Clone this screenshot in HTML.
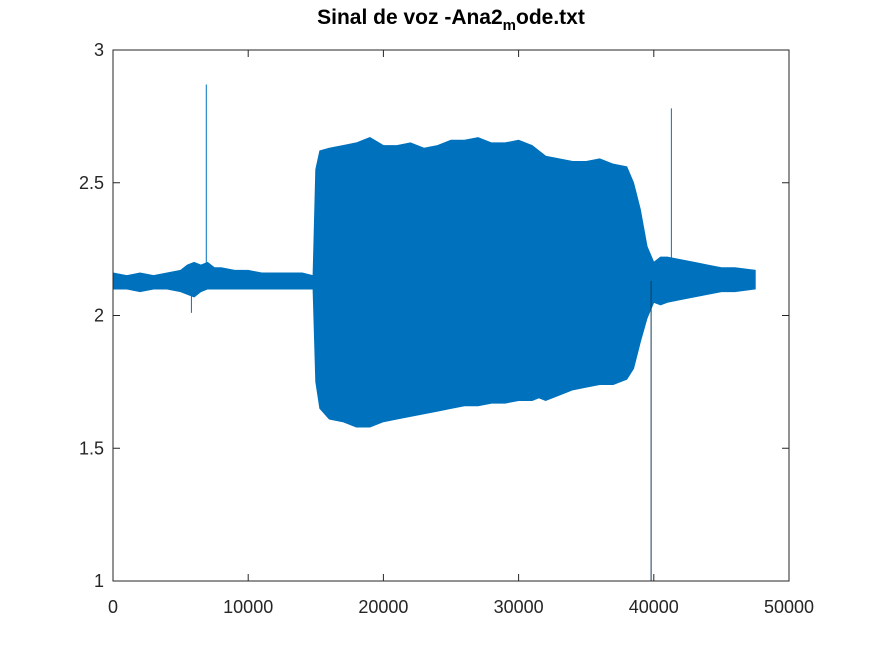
<!DOCTYPE html>
<html><head><meta charset="utf-8"><style>
body{margin:0;background:#fff;font-family:"Liberation Sans",sans-serif;}
svg text{font-family:"Liberation Sans",sans-serif;}
</style></head><body>
<svg id="chart" width="872" height="654" xmlns="http://www.w3.org/2000/svg">
<rect width="872" height="654" fill="#fff"/>
<text x="451" y="24" text-anchor="middle" font-size="21" font-weight="bold" fill="#000">Sinal de voz -Ana2<tspan font-size="15" dy="6">m</tspan><tspan dy="-6">ode.txt</tspan></text>
<g id="plot"></g>
<rect x="113" y="50" width="676" height="531" fill="none" stroke="#262626" stroke-width="1"/>
<g id="axes"></g>
</svg>
<script>
const sampleIdx=[0,1000,2000,3000,4000,5000,5500,6000,6500,7000,7500,8000,9000,10000,11000,12000,13000,14000,14800,15000,15300,16000,17000,18000,19000,20000,21000,22000,23000,24000,25000,26000,27000,28000,29000,30000,31000,31500,32000,33000,34000,35000,36000,37000,38000,38500,39000,39500,40000,40500,41000,42000,43000,44000,45000,46000,47500];
const upperEnv=[2.16,2.15,2.16,2.15,2.16,2.17,2.19,2.20,2.19,2.20,2.18,2.18,2.17,2.17,2.16,2.16,2.16,2.16,2.15,2.55,2.62,2.63,2.64,2.65,2.67,2.64,2.64,2.65,2.63,2.64,2.66,2.66,2.67,2.65,2.65,2.66,2.64,2.62,2.60,2.59,2.58,2.58,2.59,2.57,2.56,2.50,2.40,2.26,2.20,2.22,2.22,2.21,2.20,2.19,2.18,2.18,2.17];
const lowerEnv=[2.10,2.10,2.09,2.10,2.10,2.09,2.08,2.07,2.09,2.10,2.10,2.10,2.10,2.10,2.10,2.10,2.10,2.10,2.10,1.75,1.65,1.61,1.60,1.58,1.58,1.60,1.61,1.62,1.63,1.64,1.65,1.66,1.66,1.67,1.67,1.68,1.68,1.69,1.68,1.70,1.72,1.73,1.74,1.74,1.76,1.80,1.90,1.99,2.05,2.04,2.05,2.06,2.07,2.08,2.09,2.09,2.10];
const spikeIdx=[6900,41300,39800,5800];
const spikeVal=[2.87,2.78,1.0,2.01];
const xTicks=[0,10000,20000,30000,40000,50000];
const yTicks=[1,1.5,2,2.5,3];
const xLabels=["0","10000","20000","30000","40000","50000"];
const yLabels=["1","1.5","2","2.5","3"];

const X=v=>113+v/50000*676;
const Y=v=>581-(v-1)/2*531;
const NS="http://www.w3.org/2000/svg";
const plot=document.getElementById('plot'),axes=document.getElementById('axes');
let pts=sampleIdx.map((s,i)=>X(s)+','+Y(upperEnv[i]));
for(let i=sampleIdx.length-1;i>=0;i--)pts.push(X(sampleIdx[i])+','+Y(lowerEnv[i]));
const poly=document.createElementNS(NS,'polygon');
poly.setAttribute('points',pts.join(' '));
poly.setAttribute('fill','#0072bd');poly.setAttribute('stroke','#0072bd');poly.setAttribute('stroke-width','1');


plot.appendChild(poly);
spikeIdx.forEach((s,i)=>{
  const l=document.createElementNS(NS,'line');
  l.setAttribute('x1',X(s));l.setAttribute('x2',X(s));
  l.setAttribute('y1',Y(2.13));l.setAttribute('y2',Y(spikeVal[i]));
  l.setAttribute('stroke',spikeVal[i]<1.5?'#1a3a5a':'#0072bd');l.setAttribute('stroke-width','1');
  
  
  plot.appendChild(l);
});
xTicks.forEach((t,i)=>{
  const x=X(t);
  const a=document.createElementNS(NS,'path');
  a.setAttribute('d',`M${x},581V574M${x},50V57`);a.setAttribute('stroke','#262626');
  
  
  axes.appendChild(a);
  const tx=document.createElementNS(NS,'text');
  tx.setAttribute('x',x);tx.setAttribute('y',613);tx.setAttribute('text-anchor','middle');tx.setAttribute('font-size','18');tx.setAttribute('fill','#262626');
  tx.textContent=xLabels[i];
  
  
  axes.appendChild(tx);
});
yTicks.forEach((t,i)=>{
  const y=Y(t);
  const a=document.createElementNS(NS,'path');
  a.setAttribute('d',`M113,${y}H120M789,${y}H782`);a.setAttribute('stroke','#262626');
  
  
  axes.appendChild(a);
  const tx=document.createElementNS(NS,'text');
  tx.setAttribute('x',104);tx.setAttribute('y',y+6);tx.setAttribute('text-anchor','end');tx.setAttribute('font-size','18');tx.setAttribute('fill','#262626');
  tx.textContent=yLabels[i];
  
  
  axes.appendChild(tx);
});
</script>
</body></html>
